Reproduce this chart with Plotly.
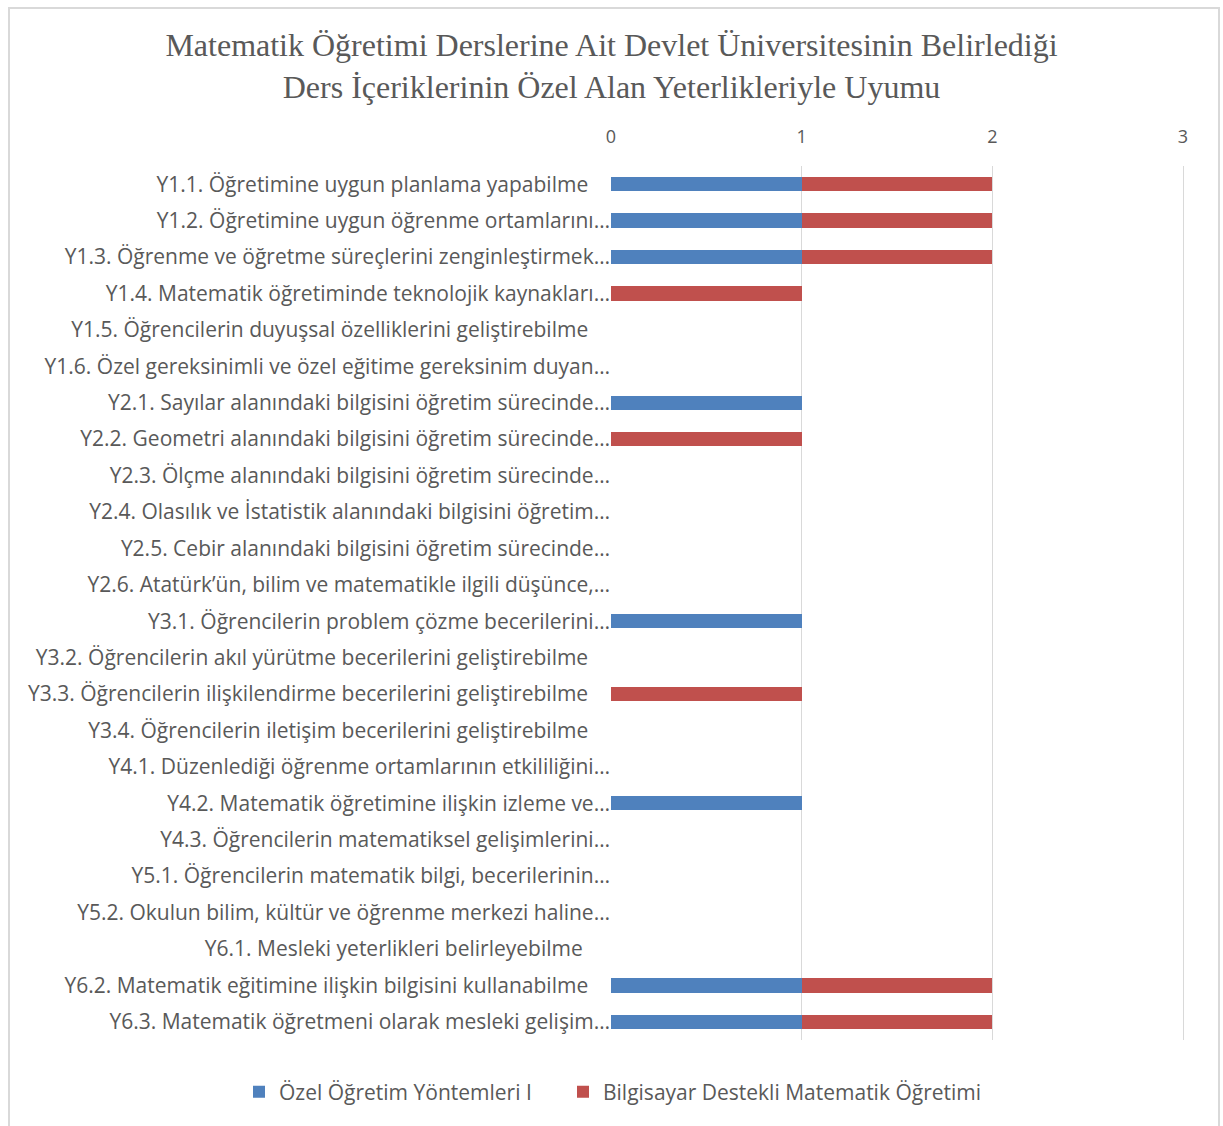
import plotly.graph_objects as go

categories = [
    "Y1.1. Öğretimine uygun planlama yapabilme",
    "Y1.2. Öğretimine uygun öğrenme ortamlarını…",
    "Y1.3. Öğrenme ve öğretme süreçlerini zenginleştirmek…",
    "Y1.4. Matematik öğretiminde teknolojik kaynakları…",
    "Y1.5. Öğrencilerin duyuşsal özelliklerini geliştirebilme",
    "Y1.6. Özel gereksinimli ve özel eğitime gereksinim duyan…",
    "Y2.1. Sayılar alanındaki bilgisini öğretim sürecinde…",
    "Y2.2. Geometri alanındaki bilgisini öğretim sürecinde…",
    "Y2.3. Ölçme alanındaki bilgisini öğretim sürecinde…",
    "Y2.4. Olasılık ve İstatistik alanındaki bilgisini öğretim…",
    "Y2.5. Cebir alanındaki bilgisini öğretim sürecinde…",
    "Y2.6. Atatürk’ün, bilim ve matematikle ilgili düşünce,…",
    "Y3.1. Öğrencilerin problem çözme becerilerini…",
    "Y3.2. Öğrencilerin akıl yürütme becerilerini geliştirebilme",
    "Y3.3. Öğrencilerin ilişkilendirme becerilerini geliştirebilme",
    "Y3.4. Öğrencilerin iletişim becerilerini geliştirebilme",
    "Y4.1. Düzenlediği öğrenme ortamlarının etkililiğini…",
    "Y4.2. Matematik öğretimine ilişkin izleme ve…",
    "Y4.3. Öğrencilerin matematiksel gelişimlerini…",
    "Y5.1. Öğrencilerin matematik bilgi, becerilerinin…",
    "Y5.2. Okulun bilim, kültür ve öğrenme merkezi haline…",
    "Y6.1. Mesleki yeterlikleri belirleyebilme",
    "Y6.2. Matematik eğitimine ilişkin bilgisini kullanabilme",
    "Y6.3. Matematik öğretmeni olarak mesleki gelişim…",
]

ozel_ogretim = [1, 1, 1, 0, 0, 0, 1, 0, 0, 0, 0, 0, 1, 0, 0, 0, 0, 1, 0, 0, 0, 0, 1, 1]
bilgisayar = [1, 1, 1, 1, 0, 0, 0, 1, 0, 0, 0, 0, 0, 0, 1, 0, 0, 0, 0, 0, 0, 0, 1, 1]

series_names = ["Özel Öğretim Yöntemleri I", "Bilgisayar Destekli Matematik Öğretimi"]
x_ticks = [0, 1, 2, 3]

# labels without ellipsis are shown with trailing space in the original
tick_text = [c if c.endswith("…") else c + "\u00a0" * 4 for c in categories]
tick_text[21] = categories[21] + "\u00a0" * 5

W, H = 1223, 1126
L, R, T, B = 611, 1186, 166, 1040
X3 = 1183  # pixel where value 3 lies
LEG_Y = 1092

fig = go.Figure()
fig.add_trace(go.Bar(y=categories, x=ozel_ogretim, name=series_names[0], orientation="h",
                     marker=dict(color="#4F81BD", line=dict(width=0)), legend="legend"))
fig.add_trace(go.Bar(y=categories, x=bilgisayar, name=series_names[1], orientation="h",
                     marker=dict(color="#C0504D", line=dict(width=0)), legend="legend2"))

legend_common = dict(orientation="h", xref="container", yref="container", xanchor="left",
                     y=1 - LEG_Y / H, yanchor="middle",
                     font=dict(size=21, color="#595959"),
                     bgcolor="rgba(0,0,0,0)", borderwidth=0)

fig.update_layout(
    template="none",
    width=W, height=H,
    barmode="stack", bargap=0.605,
    paper_bgcolor="white", plot_bgcolor="white",
    margin=dict(l=L, r=W - R, t=T, b=H - B, pad=0, autoexpand=False),
    title=dict(
        text="Matematik Öğretimi Derslerine Ait Devlet Üniversitesinin Belirlediği<br>Ders İçeriklerinin Özel Alan Yeterlikleriyle Uyumu",
        x=0.5, xanchor="center", y=1 - 56 / H, yanchor="middle",
        font=dict(family="Liberation Serif", size=32, color="#595959"),
    ),
    font=dict(family="Open Sans", color="#595959"),
    legend=dict(x=239 / W, **legend_common),
    legend2=dict(x=563 / W, **legend_common),
    showlegend=True,
)

fig.update_xaxes(
    side="top", range=[0, 3 * (R - L) / (X3 - L)], tickvals=x_ticks, ticktext=[str(v) for v in x_ticks],
    showgrid=True, gridcolor="#d9d9d9", gridwidth=1, zeroline=False, showline=False,
    ticks="", tickfont=dict(size=18, color="#595959"), ticklabelstandoff=18,
    automargin=False,
)
fig.update_yaxes(
    categoryorder="array", categoryarray=categories, autorange="reversed",
    tickvals=categories, ticktext=tick_text,
    showgrid=False, zeroline=False, showline=False, ticks="",
    tickfont=dict(size=21, color="#595959"), ticklabelstandoff=0,
    automargin=False,
)

# chart frame
fig.add_shape(type="rect", xref="paper", yref="paper",
              x0=(9 - L) / (R - L), x1=(1219 - L) / (R - L),
              y0=(B - 1132) / (B - T), y1=(B - 8) / (B - T),
              line=dict(color="#d9d9d9", width=2), fillcolor="rgba(0,0,0,0)", layer="below")

fig.write_html("out.html")
